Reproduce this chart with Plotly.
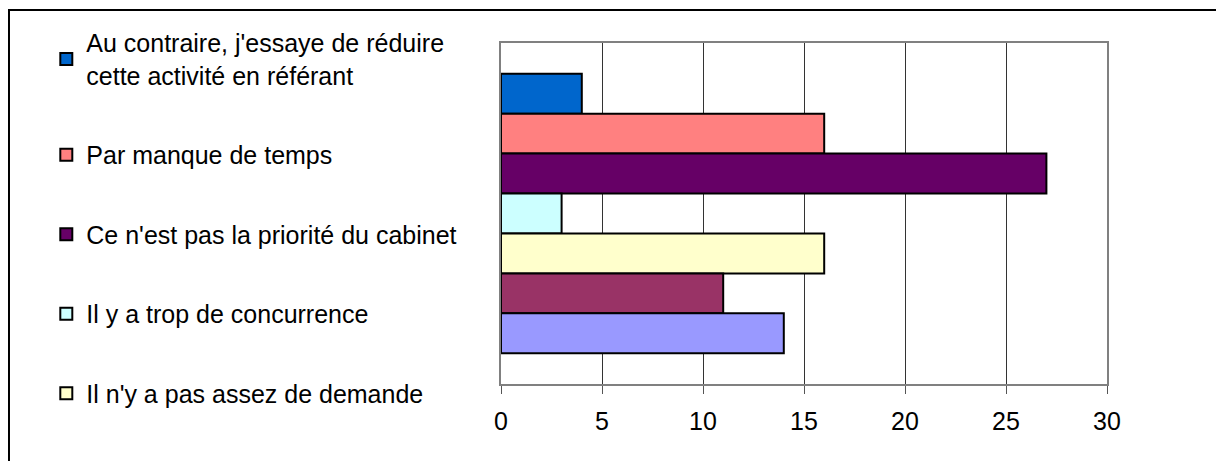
import plotly.graph_objects as go

# Series listed top-to-bottom as drawn
series_names = [
    "Au contraire, j'essaye de réduire<br>cette activité en référant",
    "Par manque de temps",
    "Ce n'est pas la priorité du cabinet",
    "Il y a trop de concurrence",
    "Il n'y a pas assez de demande",
    "Série 2",
    "Série 1",
]
series_values = [4, 16, 27, 3, 16, 11, 14]
series_colors = ["#0066CC", "#FF8080", "#660066", "#CCFFFF", "#FFFFCC", "#993366", "#9999FF"]
show_in_legend = [True, True, True, True, True, False, False]
category = [""]
x_ticks = [0, 5, 10, 15, 20, 25, 30]

fig = go.Figure()
for i, (n, v, c, s) in enumerate(zip(series_names, series_values, series_colors, show_in_legend)):
    fig.add_trace(go.Bar(
        y=category, x=[v], name=n, orientation="h",
        marker=dict(color=c, line=dict(color="black", width=2)),
        showlegend=s, legendgroup=f"g{i}",
    ))

# page has an 8px body margin, so the figure is sized to fill the rest of the window
fig.update_layout(
    width=1216, height=453,
    margin=dict(l=493, r=117, t=35, b=77),
    paper_bgcolor="white", plot_bgcolor="white",
    barmode="group", bargap=0.18, bargroupgap=0,
    font=dict(family="Liberation Sans, Arial, sans-serif", size=25, color="black"),
    legend=dict(
        xref="container", yref="container",
        x=0.0315, xanchor="left", y=0.9737, yanchor="top",
        traceorder="grouped", tracegroupgap=44,
        font=dict(size=25), maxheight=450,
        bgcolor="rgba(0,0,0,0)",
    ),
    xaxis=dict(
        range=[0, 30], tickvals=x_ticks, showgrid=True, gridcolor="#333333", gridwidth=1,
        showline=True, linecolor="#808080", linewidth=2, mirror=True,
        ticks="outside", ticklen=8, tickcolor="#555555", tickwidth=1,
        zeroline=False, tickfont=dict(size=25), ticklabelstandoff=6,
    ),
    yaxis=dict(
        showline=True, linecolor="#808080", linewidth=2, mirror=True,
        showticklabels=False, ticks="", showgrid=False, autorange="reversed",
    ),
    shapes=[dict(type="rect", xref="paper", yref="paper",
                 x0=-0.8119, x1=1.3, y0=-0.5, y1=1.0968,
                 line=dict(color="black", width=2), layer="below")],
)

fig.write_html("out.html")
